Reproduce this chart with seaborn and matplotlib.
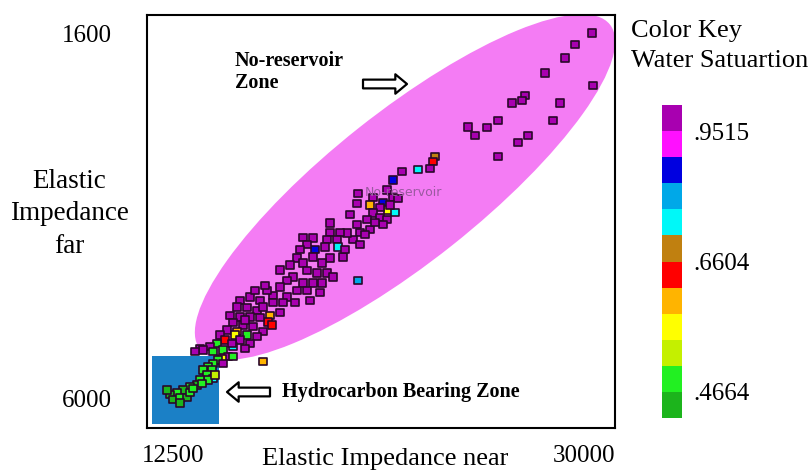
import numpy as np
import pandas as pd
import matplotlib
matplotlib.use('Agg')
import matplotlib.pyplot as plt
import matplotlib.colors as mcolors
from matplotlib.patches import Ellipse, Rectangle
from matplotlib.transforms import Affine2D
import seaborn as sns

# ---------------- data ----------------
ei_near = [30340, 29620, 29190, 28340, 30380, 27490, 27360, 26940, 28980, 26340,
           28680, 25060, 25360, 25870, 27620, 27190, 26340, 23660, 23570, 23440,
           22930, 22250, 21870, 21610, 20380, 21020, 21870, 22080, 20340, 20890,
           21440, 21660, 21950, 21310, 21020, 21310, 21610, 20760, 20340, 20460,
           20890, 21440, 20160, 20460, 19910, 19190, 19190, 19610, 19480, 19060,
           19530, 18970, 18550, 18040, 18460, 18210, 19740, 19190, 18840, 18460,
           17780, 18040, 18210, 18630, 19060, 19310, 18840, 18460, 18040, 17610,
           17350, 17060, 17780, 18210, 18760, 17350, 16760, 16500, 16200, 15780,
           15350, 15230, 15650, 16080, 16330, 16760, 17180, 17700, 17060, 16630,
           16550, 16720, 16200, 15780, 15350, 14930, 15060, 15480, 15910, 16330,
           16080, 15650, 15230, 14800, 14500, 14710, 15140, 15350, 15780, 14370,
           14080, 13650, 13780, 14200, 14630, 15060, 14840, 14590, 16330, 20380,
           14420, 14200, 13990, 13780, 14160, 13950, 14200, 13990, 13650, 13520,
           13220, 12930, 12670, 12370, 12500, 12800, 13100, 12250, 12800, 13220,
           13350, 13740, 14290, 13440, 14630, 15060,
           17910, 17480, 17060, 18330, 16420, 15990, 15570, 20040, 19820, 20680,
           21100, 21740, 15010, 15570]
ei_far = [1590, 1730, 1890, 2070, 2220, 2340, 2400, 2430, 2430, 2640,
          2640, 2720, 2820, 2730, 2820, 2910, 3080, 3080, 3140, 3220,
          3230, 3260, 3360, 3480, 3520, 3570, 3570, 3580, 3640, 3660,
          3630, 3720, 3750, 3690, 3760, 3810, 3840, 3840, 3900, 3990,
          3960, 3900, 4080, 4140, 4000, 3880, 3990, 3990, 4080, 4080,
          4170, 4170, 4200, 4050, 4060, 4140, 4290, 4300, 4360, 4290,
          4300, 4360, 4450, 4480, 4480, 4530, 4600, 4600, 4600, 4530,
          4570, 4650, 4690, 4690, 4720, 4770, 4750, 4690, 4810, 4770,
          4810, 4890, 4900, 4930, 4890, 4840, 4840, 4840, 4960, 4990,
          5070, 5110, 5020, 5010, 5010, 4990, 5080, 5110, 5130, 5190,
          5250, 5230, 5190, 5170, 5230, 5290, 5230, 5290, 5330, 5330,
          5370, 5390, 5410, 5430, 5410, 5370, 5490, 5510, 5550, 4570,
          5530, 5570, 5610, 5650, 5650, 5710, 5750, 5770, 5770, 5830,
          5850, 5890, 5920, 5950, 6010, 5990, 5980, 5890, 6050, 5920,
          5870, 5810, 5710, 5430, 5570, 5490,
          4200, 4385, 4445, 4810, 4630, 4690, 5050, 3780, 4200, 4020,
          3870, 3660, 5330, 5390]
sw = [0.98, 0.98, 0.98, 0.98, 0.98, 0.98, 0.98, 0.98, 0.98, 0.98,
      0.98, 0.98, 0.98, 0.98, 0.98, 0.98, 0.98, 0.69, 0.64, 0.98,
      0.75, 0.98, 0.86, 0.98, 0.98, 0.98, 0.98, 0.98, 0.98, 0.60,
      0.86, 0.56, 0.75, 0.98, 0.98, 0.98, 0.98, 0.98, 0.98, 0.98,
      0.98, 0.98, 0.98, 0.98, 0.98, 0.98, 0.98, 0.98, 0.98, 0.98,
      0.75, 0.98, 0.86, 0.98, 0.98, 0.98, 0.98, 0.98, 0.98, 0.98,
      0.98, 0.98, 0.98, 0.98, 0.98, 0.98, 0.98, 0.98, 0.98, 0.98,
      0.98, 0.98, 0.98, 0.98, 0.98, 0.98, 0.98, 0.98, 0.98, 0.98,
      0.98, 0.98, 0.98, 0.98, 0.98, 0.98, 0.98, 0.98, 0.98, 0.60,
      0.64, 0.64, 0.98, 0.98, 0.98, 0.98, 0.98, 0.98, 0.98, 0.98,
      0.98, 0.48, 0.60, 0.98, 0.98, 0.64, 0.56, 0.98, 0.98, 0.48,
      0.98, 0.98, 0.98, 0.48, 0.48, 0.75, 0.98, 0.56, 0.60, 0.80,
      0.48, 0.47, 0.48, 0.47, 0.48, 0.47, 0.75, 0.48, 0.47, 0.46,
      0.48, 0.46, 0.47, 0.46, 0.45, 0.47, 0.46, 0.45, 0.46, 0.47,
      0.48, 0.47, 0.52, 0.98, 0.98, 0.48,
      0.98, 0.98, 0.98, 0.98, 0.98, 0.98, 0.98, 0.98, 0.98, 0.98,
      0.98, 0.98, 0.98, 0.98]

x_ticks = [12500, 30000]
x_tick_labels = ['12500', '30000']
y_ticks = [1600, 6000]
y_tick_labels = ['1600', '6000']

# colour key (low -> high)
sw_bounds = [0.4276, 0.4664, 0.5052, 0.5440, 0.5828, 0.6216, 0.6604,
             0.7186, 0.7768, 0.8351, 0.8933, 0.9515, 1.0097]
key_colors = ['#1cb41c', '#22f022', '#c4f000', '#ffff00', '#ffb400', '#ff0000',
              '#c08010', '#00f8f8', '#00a8e8', '#0000e0', '#ff10ff', '#a800b0']
key_ticks = [0.4664, 0.6604, 0.9515]
key_tick_labels = ['.4664', '.6604', '.9515']

# ---------------- figure ----------------
sns.set_style('white')
plt.rcParams['font.family'] = ['Liberation Serif', 'DejaVu Serif']
plt.rcParams['text.color'] = 'black'
plt.rcParams['xtick.color'] = 'black'
plt.rcParams['ytick.color'] = 'black'

W, H = 809, 475
fig = plt.figure(figsize=(W / 100, H / 100), dpi=100)
ax = fig.add_axes([147 / W, 1 - 428 / H, 468 / W, 413 / H])
# transform for annotation shapes given in image pixels (origin top-left)
px = Affine2D().scale(1 / 100, -1 / 100).translate(0, H / 100) + fig.dpi_scale_trans

# zones
ax.add_patch(Ellipse((405, 187), 523, 150, angle=-38.4, transform=px,
                     facecolor='#f47cf4', edgecolor='none', zorder=1))
ax.add_patch(Rectangle((152, 356), 67, 68, transform=px,
                       facecolor='#1b80c6', edgecolor='none', zorder=1))
fig.text(403, 192, 'No-reservoir', transform=px, ha='center', va='center',
         fontsize=9, family='DejaVu Sans', color='#9a5aa0', zorder=2)

cmap = mcolors.ListedColormap(key_colors)
norm = mcolors.BoundaryNorm(sw_bounds, cmap.N)
df = pd.DataFrame({'ei_near': ei_near, 'ei_far': ei_far, 'sw': sw})
sns.scatterplot(data=df, x='ei_near', y='ei_far', hue='sw', palette=cmap,
                hue_norm=norm, marker='s', s=28, edgecolor='#2a082a',
                linewidth=1.2, legend=False, ax=ax, zorder=3)

ax.set_xlim(11393, 31320)
ax.set_ylim(6350, 1371)
ax.set_xticks(x_ticks)
ax.set_xticklabels(x_tick_labels)
ax.set_yticks(y_ticks)
ax.set_yticklabels(y_tick_labels)
ax.tick_params(length=0, labelsize=18, labelcolor='black')
ax.tick_params(axis='x', pad=12)
ax.tick_params(axis='y', pad=25)
ax.set_xlabel('')
ax.set_ylabel('')
for s in ax.spines.values():
    s.set_color('black')
    s.set_linewidth(1.5)
    s.set_zorder(5)

# annotations
fig.text(235, 72, 'No-reservoir\nZone', transform=px, ha='left', va='center',
         fontsize=14.5, fontweight='bold', linespacing=1.1)
fig.text(282, 392, 'Hydrocarbon Bearing Zone', transform=px, ha='left',
         va='center', fontsize=14.5, fontweight='bold')
arrow_style = 'simple,head_length=0.6,head_width=1.0,tail_width=0.45'
ax.annotate('', xy=(407, H - 84), xytext=(363, H - 84),
            xycoords='figure pixels', textcoords='figure pixels',
            arrowprops=dict(arrowstyle=arrow_style, fc='white', ec='black',
                            lw=1.6, mutation_scale=14, shrinkA=0, shrinkB=0))
ax.annotate('', xy=(227, H - 392), xytext=(270, H - 392),
            xycoords='figure pixels', textcoords='figure pixels',
            arrowprops=dict(arrowstyle=arrow_style, fc='white', ec='black',
                            lw=1.6, mutation_scale=14, shrinkA=0, shrinkB=0))

# axis titles
fig.text(69, 214, 'Elastic\nImpedance\nfar', transform=px, ha='center',
         va='center', fontsize=19.5, linespacing=1.42)
fig.text(385, 459, 'Elastic Impedance near', transform=px, ha='center',
         va='center', fontsize=19)

# colour key
fig.text(631, 31, 'Color Key', transform=px, ha='left', va='center', fontsize=19)
fig.text(631, 61, 'Water Satuartion', transform=px, ha='left', va='center',
         fontsize=19)
cax = fig.add_axes([662 / W, 1 - 418 / H, 20 / W, 313 / H])
sm = plt.cm.ScalarMappable(norm=norm, cmap=cmap)
cb = fig.colorbar(sm, cax=cax, spacing='uniform', ticks=key_ticks)
cb.set_ticklabels(key_tick_labels)
cb.outline.set_visible(False)
cax.minorticks_off()
cax.tick_params(which='both', length=0, labelsize=18, pad=8, labelcolor='black')

fig.savefig('out.png', dpi=100)
